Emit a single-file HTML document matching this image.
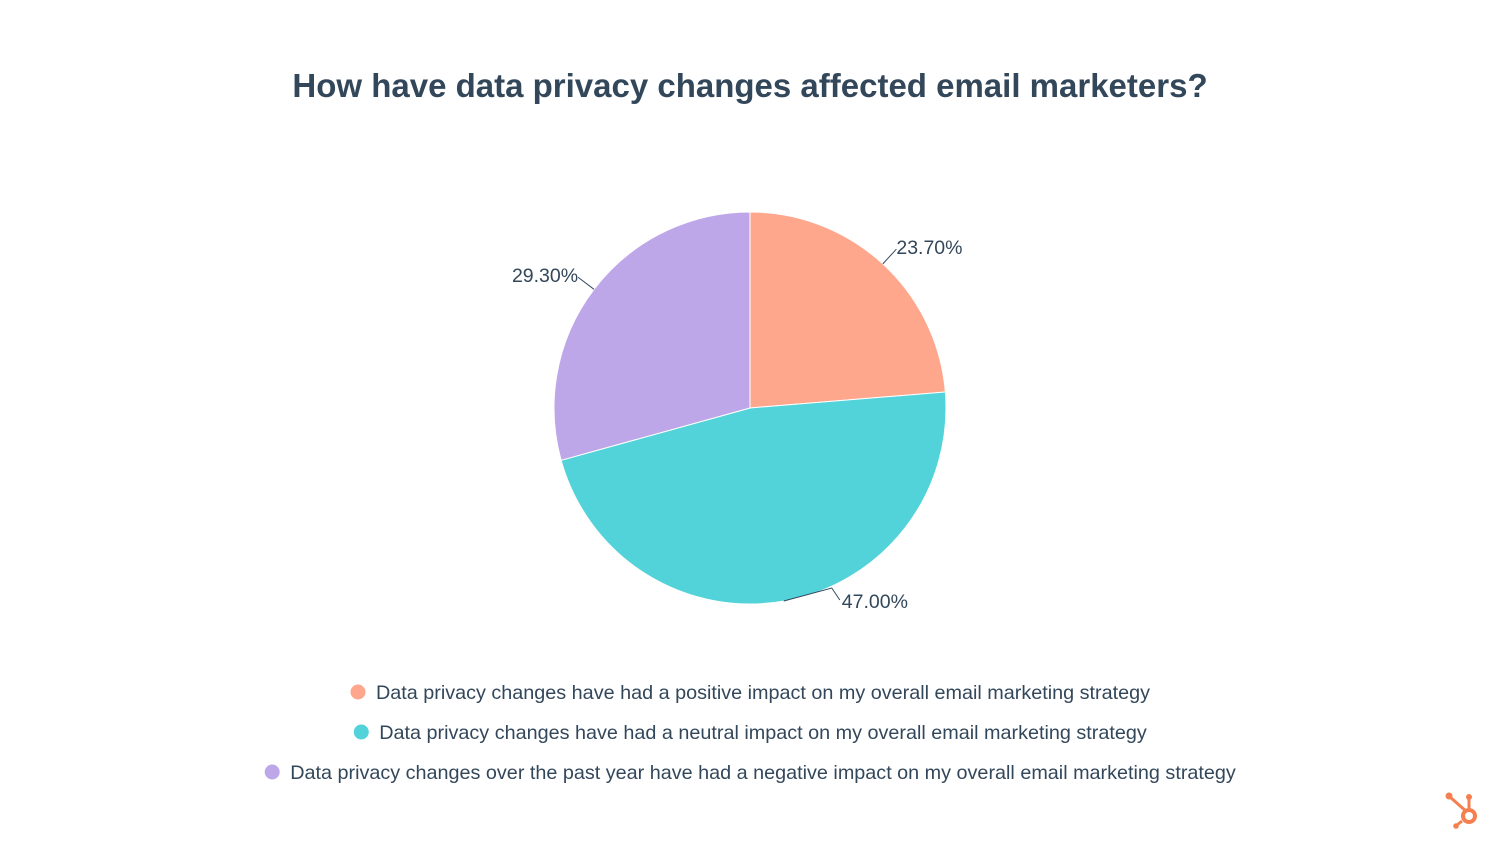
<!DOCTYPE html>
<html><head><meta charset="utf-8"><style>
body{margin:0;background:#fff;width:1500px;height:844px;overflow:hidden;font-family:"Liberation Sans",sans-serif}
.title{position:absolute;top:67px;left:0;width:1500px;text-align:center;font-size:33px;font-weight:bold;color:#33475b}
</style></head><body>
<div class="title">How have data privacy changes affected email marketers?</div>
<svg id="chart" width="1500" height="844" style="position:absolute;left:0;top:0">
<g id="slices"></g><g id="labels"></g><g id="legend"></g>
<g fill="#f57f4f" stroke="#f57f4f">
<line x1="1450" y1="797" x2="1467" y2="812" stroke-width="3"/>
<line x1="1469" y1="798" x2="1469" y2="808" stroke-width="3"/>
<line x1="1462" y1="821" x2="1457" y2="825" stroke-width="3"/>
<circle cx="1449" cy="796" r="3.5" stroke="none"/>
<circle cx="1469" cy="797" r="3" stroke="none"/>
<circle cx="1456" cy="826" r="2.8" stroke="none"/>
<circle cx="1469" cy="816" r="6" fill="none" stroke-width="4"/>
</g>
</svg>
<script>
const categories=["Data privacy changes have had a positive impact on my overall email marketing strategy","Data privacy changes have had a neutral impact on my overall email marketing strategy","Data privacy changes over the past year have had a negative impact on my overall email marketing strategy"];
const values=[23.7,47.0,29.3];
const valueLabels=["23.70%","47.00%","29.30%"];
const colors=["#ffa78c","#51d3d9","#bea7e8"];
const cx=750,cy=408,r=196,NS="http://www.w3.org/2000/svg";
const total=values.reduce((a,b)=>a+b,0);
function pt(a,rr){return [cx+rr*Math.sin(a),cy-rr*Math.cos(a)];}
const sg=document.getElementById('slices'),lg=document.getElementById('labels'),leg=document.getElementById('legend');
let a0=0;
values.forEach((v,i)=>{
  const a1=a0+v/total*2*Math.PI;
  const p0=pt(a0,r),p1=pt(a1,r);
  const path=document.createElementNS(NS,'path');
  path.setAttribute('d',`M${cx},${cy}L${p0[0]},${p0[1]}A${r},${r} 0 ${a1-a0>Math.PI?1:0} 1 ${p1[0]},${p1[1]}Z`);
  path.setAttribute('fill',colors[i]);path.setAttribute('stroke','#fff');path.setAttribute('stroke-width','1');
  
  
  sg.appendChild(path);
  const am=(a0+a1)/2;const e=pt(am,r);
  const right=Math.sin(am)>=0;
  let pts,tx,ty;
  if(Math.cos(am)<-0.8){
    const e2=pt(am,r-3);
    pts=`${e2[0]},${e2[1]+3} ${e2[0]+48},${e2[1]-10} ${e2[0]+56},${e2[1]+2}`;
    tx=e2[0]+58;ty=e2[1]+10;
  } else {
    const o=pt(am,r+20);
    pts=`${e[0]},${e[1]} ${o[0]},${o[1]}`;
    tx=o[0];ty=o[1]+5;
  }
  const l=document.createElementNS(NS,'polyline');
  l.setAttribute('points',pts);
  l.setAttribute('fill','none');l.setAttribute('stroke','#33475b');l.setAttribute('stroke-width','1');
  
  
  lg.appendChild(l);
  const t=document.createElementNS(NS,'text');
  t.setAttribute('x',tx);t.setAttribute('y',ty);
  t.setAttribute('text-anchor',right?'start':'end');t.setAttribute('font-size','19.5');t.setAttribute('fill','#33475b');
  t.textContent=valueLabels[i];
  
  
  lg.appendChild(t);
  a0=a1;
});
categories.forEach((c,i)=>{
  const y=692+i*40;
  const t=document.createElementNS(NS,'text');
  t.setAttribute('y',y+7);t.setAttribute('font-size','19.8');t.setAttribute('fill','#33475b');
  t.textContent=c;
  
  
  leg.appendChild(t);
  const w=t.getComputedTextLength();const x0=750-(w+26)/2;
  t.setAttribute('x',x0+26);
  const d=document.createElementNS(NS,'circle');
  d.setAttribute('cx',x0+8);d.setAttribute('cy',y);d.setAttribute('r','7.5');d.setAttribute('fill',colors[i]);
  
  
  leg.appendChild(d);
});
</script>
</body></html>
